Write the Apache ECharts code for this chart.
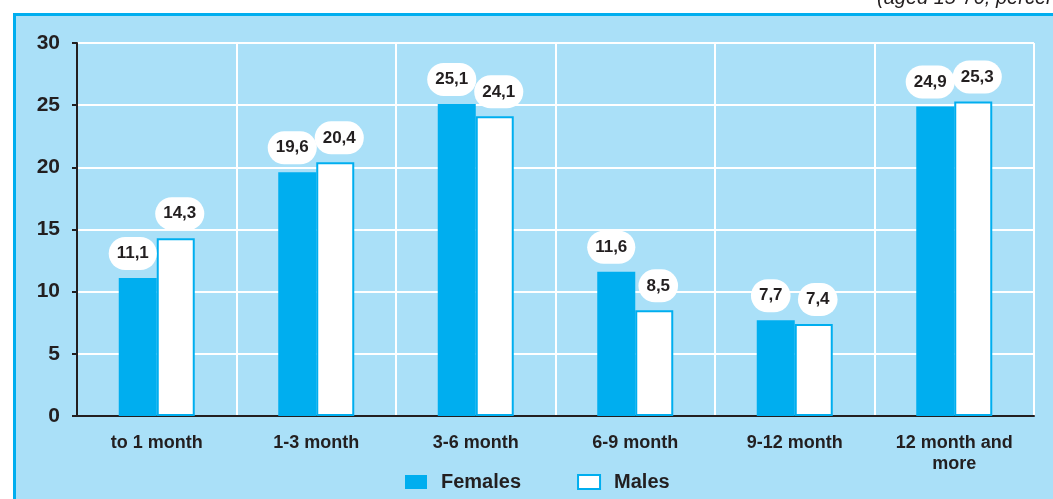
<!DOCTYPE html>
<html><head><meta charset="utf-8">
<script src="https://cdn.jsdelivr.net/npm/echarts@6/dist/echarts.min.js"></script>
<style>html,body{margin:0;padding:0;background:#fff}#c{width:1053px;height:499px}</style>
</head><body><div id="c"></div>
<script>
const categories = ['to 1 month','1-3 month','3-6 month','6-9 month','9-12 month','12 month and\nmore'];
const females = [11.1, 19.6, 25.1, 11.6, 7.7, 24.9];
const males = [14.3, 20.4, 24.1, 8.5, 7.4, 25.3];
const yTicks = {min:0, max:30, interval:5};
const subtitle = '(aged 15-70, percent)';

const chart = echarts.init(document.getElementById('c'), null, {renderer:'canvas'});
const txt = '#231f20';
const fmt = p => String(p.value).replace('.', ',');
const lbl = (dx) => ({
  show:true, position:'top', distance:8, formatter:fmt, offset:[dx,0],
  color:txt, fontFamily:'Liberation Sans', fontWeight:'bold', fontSize:17,
  backgroundColor:'#fff', borderRadius:17, padding:[8,8,8,8]
});
chart.setOption({
  backgroundColor:'#fff',
  animation:false,
  graphic:[
    {type:'rect', z:-10, shape:{x:14.5,y:14.5,width:1060,height:500}, style:{fill:'#aae0f8', stroke:'#00aeef', lineWidth:3}},
    {type:'text', left:877, top:-12, style:{text:subtitle, fontFamily:'Liberation Sans', fontStyle:'italic', fontSize:20, fill:txt}}
  ],
  grid:{left:77, right:19, top:43, bottom:83},
  legend:{
    bottom:2, left:400, itemGap:56, itemWidth:22, itemHeight:14,
    textStyle:{color:txt, fontFamily:'Liberation Sans', fontWeight:'bold', fontSize:20, padding:[0,0,0,9]},
    data:[{name:'Females', icon:'rect'}, {name:'Males', icon:'rect'}]
  },
  xAxis:{
    type:'category', data:categories,
    axisLine:{lineStyle:{color:'#231f20', width:2}},
    axisTick:{show:false},
    axisLabel:{color:txt, fontFamily:'Liberation Sans', fontWeight:'bold', fontSize:18, margin:17, interval:0, lineHeight:21},
    splitLine:{show:true, interval:0, lineStyle:{color:'#fff', width:2}}
  },
  yAxis:{
    type:'value', min:yTicks.min, max:yTicks.max, interval:yTicks.interval,
    axisLine:{show:true, lineStyle:{color:'#231f20', width:2}},
    axisTick:{show:true, length:5, lineStyle:{color:'#231f20', width:2}},
    axisLabel:{color:txt, fontFamily:'Liberation Sans', fontWeight:'bold', fontSize:21, margin:17},
    splitLine:{lineStyle:{color:'#fff', width:2}}
  },
  series:[
    {name:'Females', type:'bar', data:females, barWidth:38, barGap:'0%',
     itemStyle:{color:'#00aeef'}, label:lbl(-5)},
    {name:'Males', type:'bar', data:males, barWidth:38,
     itemStyle:{color:'#fff', borderColor:'#00aeef', borderWidth:2}, label:lbl(4)}
  ]
});
</script></body></html>
